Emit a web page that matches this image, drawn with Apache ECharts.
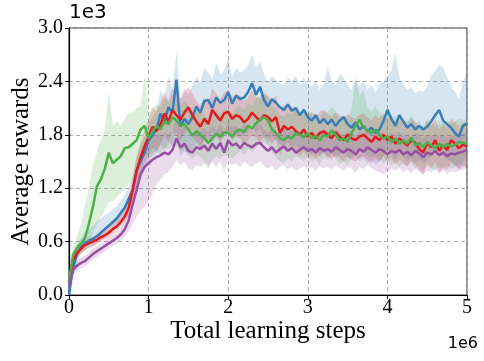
<!DOCTYPE html>
<html>
<head>
<meta charset="utf-8">
<script src="https://cdn.jsdelivr.net/npm/echarts@6/dist/echarts.min.js"></script>
<style>
  html, body { margin: 0; padding: 0; background: #fff; }
  #chart { width: 484px; height: 361px; }
</style>
</head>
<body>
<div id="chart"></div>
<script>
// rewards in units of 1e3, sampled every 0.05e6 steps (0 .. 5)
var xTicks = [0, 1, 2, 3, 4, 5];
var yTicks = [0.0, 0.6, 1.2, 1.8, 2.4, 3.0];

var greenMean = [0.15,0.45,0.53,0.58,0.64,0.80,0.99,1.22,1.30,1.42,1.60,1.48,1.52,1.56,1.65,1.66,1.70,1.74,1.86,1.90,1.76,
  1.84,1.90,1.86,1.95,1.92,2.00,1.96,1.90,1.92,1.86,1.79,1.84,1.80,1.76,1.71,1.76,1.81,1.78,1.83,1.82,
  1.78,1.84,1.86,1.83,1.90,1.87,1.93,1.97,2.00,1.96,1.86,1.82,1.76,1.74,1.78,1.76,1.82,1.80,1.77,1.82,
  1.76,1.79,1.74,1.80,1.78,1.85,1.80,1.74,1.76,1.72,1.82,1.90,1.97,1.88,1.85,1.82,1.86,1.80,1.76,1.78,
  1.72,1.76,1.70,1.74,1.70,1.77,1.68,1.71,1.66,1.72,1.68,1.65,1.70,1.66,1.70,1.67,1.69,1.72,1.71,1.70];
var greenLow = [0.05,0.35,0.42,0.46,0.50,0.58,0.70,0.80,0.88,0.95,1.05,1.05,1.10,1.15,1.20,1.25,1.30,1.40,1.55,1.60,1.55,
  1.60,1.62,1.58,1.66,1.64,1.70,1.68,1.62,1.65,1.58,1.52,1.58,1.55,1.50,1.46,1.52,1.56,1.53,1.58,1.57,
  1.54,1.58,1.62,1.57,1.64,1.60,1.66,1.70,1.72,1.68,1.60,1.55,1.50,1.48,1.53,1.50,1.56,1.54,1.50,1.56,
  1.50,1.54,1.47,1.55,1.52,1.58,1.54,1.48,1.50,1.46,1.55,1.62,1.68,1.60,1.57,1.55,1.58,1.53,1.48,1.52,
  1.45,1.50,1.44,1.48,1.45,1.50,1.42,1.46,1.40,1.47,1.43,1.40,1.45,1.41,1.45,1.42,1.44,1.47,1.46,1.45];
var greenHigh = [0.25,0.55,0.66,0.80,1.00,1.20,1.45,1.60,1.75,1.85,2.28,1.90,1.95,1.90,1.98,2.05,2.05,2.10,2.12,2.45,2.05,
  2.08,2.15,2.10,2.20,2.16,2.26,2.20,2.14,2.18,2.12,2.05,2.10,2.06,2.02,1.98,2.02,2.08,2.04,2.10,2.08,
  2.02,2.10,2.12,2.08,2.16,2.12,2.20,2.24,2.28,2.22,2.12,2.08,2.02,2.00,2.05,2.02,2.10,2.06,2.02,2.08,
  2.02,2.05,1.98,2.06,2.04,2.12,2.06,1.98,2.02,1.98,2.08,2.45,2.22,2.30,2.10,2.06,2.12,2.05,2.00,2.04,
  1.96,2.02,1.94,1.98,1.95,2.02,1.92,1.96,1.90,1.98,1.94,1.90,1.96,1.92,1.96,1.92,1.95,1.98,1.96,1.96];

var blueMean = [0.00,0.30,0.46,0.54,0.58,0.61,0.63,0.66,0.70,0.74,0.78,0.82,0.86,0.92,0.98,1.08,1.18,1.40,1.50,1.60,1.74,
  1.80,1.86,2.04,1.95,2.11,2.05,2.42,1.89,1.98,1.92,2.00,2.12,2.05,2.18,2.19,2.10,2.22,2.16,2.19,2.28,
  2.15,2.24,2.20,2.22,2.28,2.38,2.25,2.34,2.19,2.12,2.20,2.16,2.11,2.08,2.14,2.07,2.10,2.02,2.08,2.00,
  1.96,2.02,1.93,1.98,1.92,1.97,1.90,1.96,2.00,1.92,1.88,1.94,1.86,1.90,1.84,1.88,1.82,1.86,1.95,2.08,
  1.98,1.90,2.02,1.95,1.88,1.92,1.86,1.90,1.86,1.89,1.95,2.02,2.08,1.96,1.92,1.88,1.82,1.78,1.90,1.93];
var blueLow = [0.00,0.22,0.38,0.46,0.50,0.53,0.55,0.58,0.61,0.65,0.68,0.72,0.76,0.80,0.86,0.96,1.05,1.20,1.30,1.40,1.52,
  1.56,1.60,1.70,1.62,1.72,1.68,1.85,1.55,1.62,1.58,1.64,1.72,1.66,1.76,1.78,1.70,1.80,1.74,1.78,1.85,
  1.74,1.80,1.78,1.80,1.84,1.92,1.82,1.88,1.76,1.70,1.78,1.74,1.70,1.68,1.72,1.66,1.70,1.62,1.68,1.62,
  1.58,1.64,1.56,1.60,1.55,1.60,1.54,1.58,1.62,1.55,1.52,1.57,1.50,1.54,1.48,1.52,1.47,1.50,1.56,1.64,
  1.58,1.52,1.60,1.55,1.50,1.54,1.48,1.52,1.49,1.52,1.56,1.60,1.64,1.56,1.53,1.50,1.46,1.42,1.50,1.55];
var blueHigh = [0.05,0.40,0.56,0.64,0.70,0.74,0.78,0.82,0.86,0.90,0.92,0.96,1.00,1.06,1.12,1.22,1.32,1.55,1.68,1.78,1.92,
  2.00,2.08,2.30,2.20,2.45,2.30,2.72,2.20,2.32,2.25,2.35,2.45,2.38,2.55,2.50,2.42,2.60,2.48,2.52,2.66,
  2.45,2.55,2.50,2.52,2.58,2.70,2.55,2.62,2.48,2.40,2.46,2.42,2.38,2.36,2.44,2.40,2.46,2.36,2.44,2.38,
  2.34,2.42,2.30,2.38,2.56,2.40,2.36,2.48,2.44,2.36,2.30,2.42,2.34,2.40,2.30,2.36,2.28,2.36,2.40,2.46,
  2.52,2.72,2.44,2.36,2.30,2.34,2.26,2.30,2.28,2.34,2.46,2.52,2.58,2.56,2.44,2.34,2.28,2.20,2.40,2.48];

var redMean = [0.15,0.39,0.47,0.52,0.56,0.58,0.60,0.62,0.65,0.67,0.70,0.74,0.77,0.82,0.88,0.98,1.18,1.40,1.55,1.67,1.78,
  1.89,1.84,1.92,2.04,1.95,2.08,2.02,1.97,2.05,2.11,2.02,1.95,1.89,1.98,1.92,2.08,2.02,1.96,2.04,2.06,
  1.98,2.02,2.00,1.94,1.98,2.05,2.00,1.96,2.02,2.00,1.95,2.00,1.82,1.90,1.86,1.89,1.84,1.80,1.86,1.78,
  1.82,1.76,1.82,1.84,1.80,1.76,1.83,1.78,1.74,1.80,1.76,1.74,1.78,1.80,1.76,1.72,1.78,1.74,1.80,1.74,
  1.78,1.70,1.76,1.72,1.68,1.74,1.71,1.64,1.60,1.71,1.66,1.74,1.62,1.68,1.63,1.74,1.70,1.65,1.69,1.67];
var redLow = [0.10,0.33,0.42,0.47,0.51,0.53,0.55,0.57,0.60,0.62,0.64,0.68,0.71,0.76,0.82,0.90,1.06,1.25,1.38,1.48,1.58,
  1.66,1.62,1.70,1.80,1.72,1.84,1.78,1.74,1.82,1.86,1.78,1.72,1.66,1.74,1.68,1.84,1.78,1.72,1.80,1.82,
  1.74,1.78,1.76,1.70,1.74,1.80,1.76,1.72,1.78,1.76,1.70,1.76,1.58,1.66,1.62,1.64,1.60,1.56,1.62,1.54,
  1.58,1.52,1.58,1.60,1.56,1.52,1.58,1.54,1.50,1.56,1.52,1.50,1.54,1.56,1.52,1.48,1.54,1.50,1.56,1.50,
  1.54,1.46,1.52,1.48,1.44,1.50,1.47,1.40,1.36,1.47,1.42,1.50,1.38,1.44,1.40,1.50,1.46,1.41,1.45,1.43];
var redHigh = [0.20,0.45,0.53,0.58,0.62,0.64,0.66,0.68,0.71,0.73,0.77,0.81,0.84,0.90,0.96,1.08,1.32,1.55,1.72,1.85,1.98,
  2.12,2.06,2.16,2.28,2.18,2.32,2.26,2.20,2.28,2.34,2.26,2.18,2.12,2.22,2.16,2.32,2.26,2.20,2.28,2.30,
  2.22,2.26,2.24,2.18,2.22,2.30,2.24,2.20,2.26,2.24,2.18,2.24,2.06,2.14,2.10,2.12,2.08,2.04,2.10,2.02,
  2.06,2.00,2.06,2.08,2.04,2.00,2.06,2.02,1.98,2.04,2.00,1.98,2.02,2.04,2.00,1.96,2.02,1.98,2.04,1.98,
  2.02,1.94,2.00,1.96,1.92,1.98,1.95,1.88,1.84,1.95,1.90,1.98,1.86,1.92,1.88,1.98,1.94,1.89,1.93,1.91];

var purpleMean = [0.10,0.28,0.33,0.36,0.38,0.42,0.46,0.49,0.52,0.55,0.58,0.61,0.64,0.68,0.74,0.84,1.02,1.18,1.36,1.44,1.48,
  1.52,1.55,1.57,1.60,1.58,1.63,1.76,1.66,1.70,1.62,1.60,1.66,1.64,1.68,1.62,1.70,1.64,1.71,1.60,1.74,
  1.68,1.70,1.65,1.71,1.68,1.66,1.70,1.71,1.66,1.62,1.66,1.60,1.64,1.67,1.62,1.65,1.60,1.63,1.66,1.62,
  1.64,1.60,1.65,1.62,1.64,1.61,1.66,1.63,1.60,1.64,1.62,1.58,1.64,1.61,1.66,1.63,1.60,1.64,1.62,1.58,
  1.62,1.60,1.63,1.58,1.61,1.57,1.62,1.59,1.55,1.60,1.58,1.62,1.57,1.60,1.56,1.59,1.58,1.60,1.61,1.63];
var purpleLow = [0.06,0.22,0.27,0.30,0.32,0.36,0.40,0.43,0.46,0.49,0.52,0.55,0.58,0.61,0.66,0.72,0.80,0.88,0.95,1.00,1.05,
  1.15,1.25,1.30,1.36,1.38,1.44,1.52,1.46,1.50,1.42,1.40,1.46,1.44,1.48,1.42,1.50,1.44,1.50,1.40,1.52,
  1.46,1.48,1.44,1.50,1.46,1.44,1.48,1.50,1.45,1.42,1.46,1.40,1.44,1.46,1.41,1.44,1.40,1.42,1.45,1.42,
  1.44,1.40,1.45,1.42,1.44,1.41,1.46,1.43,1.40,1.44,1.42,1.38,1.44,1.41,1.46,1.43,1.40,1.38,1.36,1.38,
  1.42,1.40,1.43,1.38,1.41,1.37,1.42,1.39,1.35,1.40,1.38,1.42,1.37,1.40,1.36,1.39,1.38,1.40,1.41,1.43];
var purpleHigh = [0.14,0.34,0.39,0.42,0.44,0.48,0.52,0.55,0.58,0.61,0.64,0.67,0.70,0.75,0.82,0.96,1.20,1.40,1.62,1.72,1.76,
  1.78,1.80,1.80,1.82,1.80,1.84,1.98,1.86,1.90,1.82,1.80,1.86,1.84,1.88,1.82,1.90,1.84,1.92,1.80,1.96,
  1.88,1.90,1.85,1.92,1.88,1.86,1.90,1.92,1.86,1.82,1.86,1.80,1.84,1.88,1.82,1.86,1.80,1.84,1.86,1.82,
  1.84,1.80,1.85,1.82,1.84,1.81,1.86,1.83,1.80,1.84,1.82,1.78,1.84,1.81,1.86,1.83,1.80,1.84,1.82,1.78,
  1.82,1.80,1.83,1.78,1.81,1.77,1.82,1.79,1.75,1.80,1.78,1.82,1.77,1.80,1.76,1.79,1.78,1.80,1.81,1.83];

var steps = greenMean.map(function (v, i) { return i * 0.05; });

var runs = [
  {name: 'blue', color: '#377eb8', mean: blueMean, low: blueLow, high: blueHigh},
  {name: 'red', color: '#e41a1c', mean: redMean, low: redLow, high: redHigh},
  {name: 'green', color: '#4daf4a', mean: greenMean, low: greenLow, high: greenHigh},
  {name: 'purple', color: '#984ea3', mean: purpleMean, low: purpleLow, high: purpleHigh}
];

var serif = '"Liberation Serif", "DejaVu Serif", serif';
var sans = '"DejaVu Sans", sans-serif';

// shaded band as one polygon, points mapped through the axes
function bandSeries(run) {
  return {
    type: 'custom',
    name: run.name + ' band',
    silent: true,
    clip: true,
    encode: {x: 0, y: [1, 2]},
    data: steps.map(function (x, i) { return [x, run.low[i], run.high[i]]; }),
    renderItem: function (params, api) {
      if (params.dataIndex !== 0) return null;
      var pts = [];
      for (var i = 0; i < steps.length; i++) pts.push(api.coord([steps[i], run.high[i]]));
      for (var j = steps.length - 1; j >= 0; j--) pts.push(api.coord([steps[j], run.low[j]]));
      return {
        type: 'polygon',
        shape: {points: pts},
        style: {fill: run.color, opacity: 0.2, stroke: run.color, lineWidth: 0.6, strokeOpacity: 0.25}
      };
    },
    z: 1
  };
}

function lineSeries(run, k) {
  return {
    type: 'line',
    name: run.name,
    data: steps.map(function (x, i) { return [x, run.mean[i]]; }),
    showSymbol: false,
    symbol: 'none',
    lineStyle: {color: run.color, width: 2.5},
    itemStyle: {color: run.color},
    z: 3 + k,
    silent: true
  };
}

var series = [];
runs.forEach(function (r) { series.push(bandSeries(r)); });
runs.forEach(function (r, k) { series.push(lineSeries(r, k)); });

var chart = echarts.init(document.getElementById('chart'), null, {renderer: 'canvas'});
chart.setOption({
  animation: false,
  backgroundColor: '#ffffff',
  grid: {left: 69, right: 17, top: 28, bottom: 66, outerBoundsMode: 'none', containLabel: false,
    show: true, borderColor: '#222', borderWidth: 1, backgroundColor: 'transparent'},
  xAxis: {
    type: 'value', min: xTicks[0], max: xTicks[xTicks.length - 1], interval: 1,
    name: 'Total learning steps', nameLocation: 'middle', nameGap: 24, nameMoveOverlap: false,
    nameTextStyle: {fontFamily: serif, fontSize: 25, color: '#000'},
    axisLine: {show: true, onZero: false, lineStyle: {color: '#000', width: 1.2}},
    axisTick: {show: true, inside: false, length: 4, lineStyle: {color: '#000'}},
    axisLabel: {fontFamily: serif, fontSize: 20, color: '#000', margin: 3},
    splitLine: {show: true, lineStyle: {color: '#b0b0b0', type: [4, 3], width: 1}}
  },
  yAxis: {
    type: 'value', min: yTicks[0], max: yTicks[yTicks.length - 1], interval: 0.6,
    name: 'Average rewards', nameLocation: 'middle', nameGap: 35, nameMoveOverlap: false,
    nameTextStyle: {fontFamily: serif, fontSize: 25, color: '#000'},
    axisLine: {show: true, onZero: false, lineStyle: {color: '#000', width: 1.2}},
    axisTick: {show: true, inside: false, length: 4, lineStyle: {color: '#000'}},
    axisLabel: {fontFamily: serif, fontSize: 20, color: '#000', margin: 6,
      formatter: function (v) { return v.toFixed(1); }},
    splitLine: {show: true, lineStyle: {color: '#b0b0b0', type: [4, 3], width: 1}}
  },
  graphic: [
    {type: 'text', left: 69, top: 3, style: {text: '1e3', font: '20px ' + sans, fill: '#000'}},
    {type: 'text', right: 6, top: 336, style: {text: '1e6', font: '16px ' + sans, fill: '#000'}}
  ],
  series: series
});
</script>
</body>
</html>
